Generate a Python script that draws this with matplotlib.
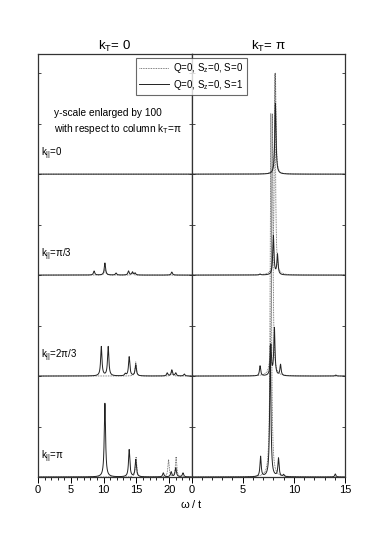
import numpy as np
import matplotlib
matplotlib.use("Agg")
import matplotlib.pyplot as plt
from matplotlib.ticker import MultipleLocator

plt.rcParams['font.family'] = ['Liberation Sans', 'DejaVu Sans']
plt.rcParams['mathtext.fontset'] = 'custom'
plt.rcParams['mathtext.rm'] = 'Liberation Sans'
plt.rcParams['mathtext.it'] = 'Liberation Sans'

# rows from bottom to top: k_par = pi, 2pi/3, pi/3, 0
row_labels = [r'k$_{||}$=$\pi$', r'k$_{||}$=2$\pi$/3', r'k$_{||}$=$\pi$/3', r'k$_{||}$=0']

# peaks: (position omega/t, height in row units)
# left column k_T = 0 (already x100)
left_solid = [
    [(10.2, 0.73), (13.9, 0.27), (14.9, 0.17), (19.1, 0.04), (20.3, 0.05), (21.0, 0.09), (22.1, 0.04)],
    [(9.65, 0.29), (10.7, 0.29), (13.3, 0.02), (13.9, 0.19), (14.9, 0.11), (19.7, 0.03), (20.4, 0.06), (21.0, 0.03), (22.3, 0.02)],
    [(8.55, 0.04), (10.2, 0.12), (11.9, 0.02), (13.8, 0.04), (14.4, 0.03), (14.8, 0.02), (20.4, 0.03)],
    [],
]
left_dotted = [
    [(14.95, 0.20), (19.9, 0.17), (21.05, 0.20)],
    [(14.9, 0.14), (20.4, 0.04)],
    [(10.2, 0.06), (14.4, 0.02)],
    [],
]
# right column k_T = pi
right_solid = [
    [(6.75, 0.20), (7.7, 1.30), (8.5, 0.18), (9.0, 0.02), (14.05, 0.03)],
    [(6.7, 0.10), (7.75, 0.30), (8.1, 0.47), (8.7, 0.11), (14.1, 0.01)],
    [(6.7, 0.01), (8.0, 0.39), (8.4, 0.20)],
    [(8.2, 0.70)],
]
right_dotted = [
    [(7.75, 3.6)],
    [(7.9, 2.6)],
    [(8.15, 2.0)],
    [(8.2, 1.0)],
]

left_width = 0.12
right_width = 0.07


def spectrum(w, peaks, gamma):
    s = np.zeros_like(w)
    for pos, h in peaks:
        s += h * gamma ** 2 / ((w - pos) ** 2 + gamma ** 2)
    return s


fig = plt.figure(figsize=(3.82, 5.43), dpi=100)
ax_l = fig.add_axes([38 / 382, 66 / 543, 153.5 / 382, 423 / 543])
ax_r = fig.add_axes([191.5 / 382, 66 / 543, 153.5 / 382, 423 / 543])

wl = np.linspace(0, 23.4, 4000)
wr = np.linspace(0, 15, 6000)
lc = '#222222'
dc = '#555555'

for i in range(4):
    ax_l.plot(wl, i + spectrum(wl, left_dotted[i], left_width), ls=(0, (1, 1)), lw=0.6, color=dc)
    ax_l.plot(wl, i + spectrum(wl, left_solid[i], left_width), lw=0.7, color=lc)
    ax_r.plot(wr, i + spectrum(wr, right_dotted[i], right_width), ls=(0, (1, 1)), lw=0.6, color=dc)
    ax_r.plot(wr, i + spectrum(wr, right_solid[i], right_width), lw=0.7, color=lc)
    ax_l.text(0.4, i + 0.12, row_labels[i], fontsize=7, va='bottom', ha='left')

ax_l.set_xlim(0, 23.4)
ax_r.set_xlim(0, 15)
for ax in (ax_l, ax_r):
    ax.set_ylim(0, 4.19)
    ax.xaxis.set_major_locator(MultipleLocator(5))
    ax.xaxis.set_minor_locator(MultipleLocator(1))
    ax.yaxis.set_major_locator(MultipleLocator(0.5))
    ax.tick_params(axis='x', which='major', direction='out', length=4, width=0.7, labelsize=8, pad=2)
    ax.tick_params(axis='x', which='minor', direction='out', length=2.5, width=0.6)
    ax.tick_params(axis='y', which='major', direction='in', length=2, width=0.5, labelleft=False,
                   left=True, right=True)
    for sp in ax.spines.values():
        sp.set_linewidth(0.9)
        sp.set_color('#333333')

ax_l.set_title(r'k$_{\rm T}$= 0', fontsize=9.5, pad=3)
ax_r.set_title(r'k$_{\rm T}$= $\pi$', fontsize=9.5, pad=3)

ax_l.text(2.4, 3.61, 'y-scale enlarged by 100', fontsize=7.3, va='center')
ax_l.text(2.4, 3.45, r'with respect to column k$_{\rm T}$=$\pi$', fontsize=7.3, va='center')

fig.text(191.5 / 382, 1 - 504 / 543, r'$\omega$ / t', fontsize=8, ha='center', va='center')

h_dot, = ax_r.plot([], [], ls=(0, (1, 1)), lw=0.6, color=dc)
h_sol, = ax_r.plot([], [], lw=0.7, color=lc)
leg = fig.legend([h_dot, h_sol], [r'Q=0, S$_{\rm z}$=0, S=0', r'Q=0, S$_{\rm z}$=0, S=1'],
                 loc='upper center', bbox_to_anchor=(191.5 / 382, 1 - 58 / 543),
                 fontsize=7, frameon=True, fancybox=False, handlelength=3,
                 borderpad=0.3, labelspacing=0.3, handletextpad=0.5, borderaxespad=0)
leg.get_frame().set_edgecolor('#444444')
leg.get_frame().set_linewidth(0.8)

fig.savefig('out.png', dpi=100)
